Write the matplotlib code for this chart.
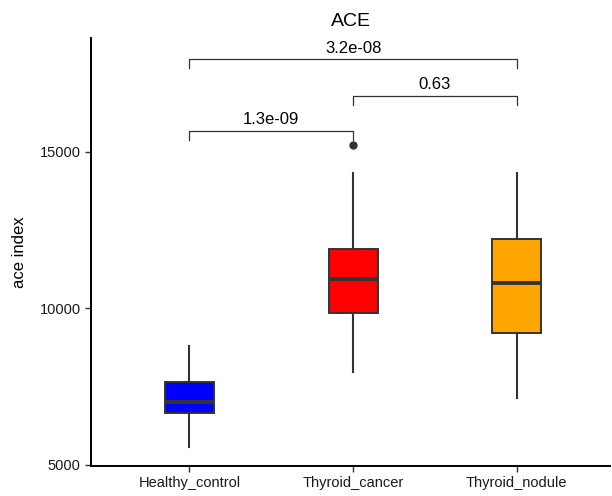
import matplotlib.pyplot as plt

plt.rcParams['font.family'] = ['Liberation Sans', 'DejaVu Sans']

groups = ['Healthy_control', 'Thyroid_cancer', 'Thyroid_nodule']
colors = ['#0000ff', '#ff0000', '#ffa500']
whisker_low = [5580, 7960, 7150]
q1 = [6650, 9840, 9200]
median = [7000, 10930, 10810]
q3 = [7640, 11900, 12230]
whisker_high = [8800, 14310, 14310]
outliers = [[], [15210], []]

# pairwise comparisons: (group a, group b, bracket height, p value)
comparisons = [
    (1, 2, 15670, '1.3e-09'),
    (2, 3, 16780, '0.63'),
    (1, 3, 17950, '3.2e-08'),
]
tip = 280

stats = []
for i, g in enumerate(groups):
    stats.append({'label': g, 'whislo': whisker_low[i], 'q1': q1[i], 'med': median[i],
                  'q3': q3[i], 'whishi': whisker_high[i], 'fliers': outliers[i]})

fig = plt.figure(figsize=(6.12, 4.96), dpi=100)
ax = fig.add_axes([0.149, 0.0605, 0.848, 0.8625])

edge = '#333333'
bp = ax.bxp(stats, positions=[1, 2, 3], widths=0.3, patch_artist=True, showcaps=False,
            boxprops=dict(edgecolor=edge, linewidth=1.4),
            medianprops=dict(color=edge, linewidth=2.8),
            whiskerprops=dict(color=edge, linewidth=1.5),
            flierprops=dict(marker='o', markerfacecolor=edge, markeredgecolor=edge, markersize=5))
for patch, c in zip(bp['boxes'], colors):
    patch.set_facecolor(c)

for a, b, h, p in comparisons:
    ax.plot([a, a, b, b], [h - tip, h, h, h - tip], color='#333333', linewidth=0.9)
    ax.text((a + b) / 2, h + 120, p, ha='center', va='bottom', fontsize=12)

ax.set_xlim(0.4, 3.57)
ax.set_ylim(4968, 18625)
ax.set_yticks([5000, 10000, 15000])
ax.set_ylabel('ace index', fontsize=12, labelpad=9)
ax.set_title('ACE', fontsize=14, pad=9)

for s in ['top', 'right']:
    ax.spines[s].set_visible(False)
for s in ['left', 'bottom']:
    ax.spines[s].set_linewidth(1.4)
    ax.spines[s].set_color('black')
ax.tick_params(axis='both', colors='#333333', length=4, width=1, labelsize=10.5, labelcolor='#1a1a1a')

fig.savefig('out.png', dpi=100)
